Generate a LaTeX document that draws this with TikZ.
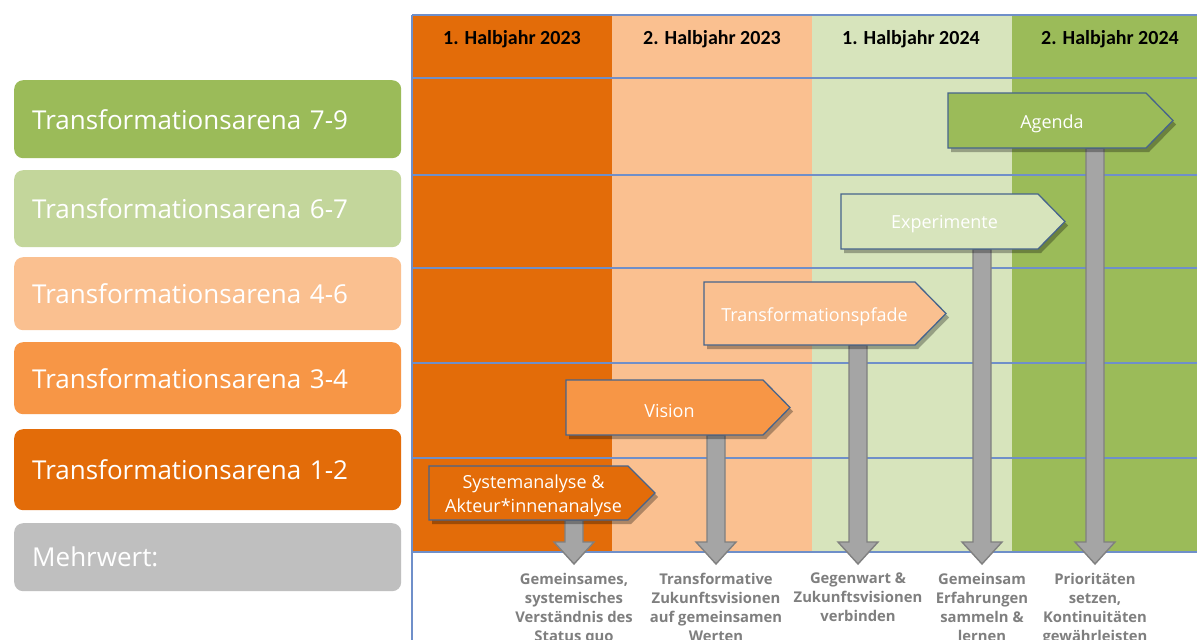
\documentclass[tikz,border=0pt]{standalone}
\usepackage{fontspec}
\setmainfont{Open Sans}
\newfontfamily\hdrfont{Carlito}
\usetikzlibrary{shadows,calc}
\definecolor{cOrange}{HTML}{E36C09}
\definecolor{cPeach}{HTML}{FAC090}
\definecolor{cLGreen}{HTML}{D7E4BC}
\definecolor{cGreen}{HTML}{9BBB59}
\definecolor{cMid}{HTML}{F79646}
\definecolor{cSage}{HTML}{C3D69B}
\definecolor{cGrayBox}{HTML}{BFBFBF}
\definecolor{gridblue}{HTML}{6F8FC9}
\definecolor{signline}{HTML}{46648C}
\definecolor{arrowfill}{HTML}{A5A5A5}
\definecolor{arrowline}{HTML}{808080}
\definecolor{btext}{HTML}{7F7F7F}
\tikzset{
  gridline/.style={draw=gridblue, line width=1.6pt},
  hdr/.style={font=\hdrfont\bfseries\fontsize{20}{24}\selectfont, text=black, inner sep=0pt},
  leftbox/.style={rounded corners=9pt, anchor=north west, minimum width=387pt, text width=351pt,
     inner xsep=18pt, inner ysep=0pt, align=left, text=white, font=\fontsize{26}{30}\selectfont},
  signshape/.style={draw=signline, line width=1.3pt, line join=miter,
     drop shadow={shadow xshift=3pt, shadow yshift=-4pt, opacity=0.3, fill=black}},
  signtext/.style={text=white, align=center, inner sep=0pt, font=\fontsize{18}{24}\selectfont},
  grayarr/.style={fill=arrowfill, draw=arrowline, line width=1.4pt, line join=miter},
  btxt/.style={anchor=north, align=center, inner sep=0pt, text=btext,
     font=\bfseries\fontsize{14.8}{19}\selectfont}
}
\newcommand\signpost[8]{%
  \filldraw[signshape, fill=#7] (#2,#3) -- (#4,#3) -- (#5,{(#3+#6)/2}) -- (#4,#6) -- (#2,#6) -- cycle;
  \node[signtext] (#1) at ({(#2+#4)/2+5},{(#3+#6)/2+3}) {#8};
}
\newcommand\grayarrow[2]{%
  \filldraw[grayarr] let \p1=(#1.south), \p2=(#2.north) in
   (\x2-9pt,\y1) -- (\x2+9pt,\y1) -- (\x2+9pt,\y2+31pt) -- (\x2+20pt,\y2+31pt) --
   (\x2,\y2+9pt) -- (\x2-20pt,\y2+31pt) -- (\x2-9pt,\y2+31pt) -- cycle;
}
\begin{document}
\begin{tikzpicture}[x=1pt,y=-1pt]
\useasboundingbox (0,0) rectangle (1197,640);
\clip (0,0) rectangle (1197,640);
\fill[white] (0,0) rectangle (1197,640);
% columns
\fill[cOrange] (412,15) rectangle (612,552);
\fill[cPeach] (612,15) rectangle (812,552);
\fill[cLGreen] (812,15) rectangle (1012,552);
\fill[cGreen] (1012,15) rectangle (1197,552);
% headers
\node[hdr] (h1) at (512,39) {1. Halbjahr 2023};
\node[hdr] (h2) at (712,39) {2. Halbjahr 2023};
\node[hdr] (h3) at (911,39) {1. Halbjahr 2024};
\node[hdr] (h4) at (1110,39) {2. Halbjahr 2024};
% grid
\foreach \yy in {15,78,175,268,363,458,552} {\draw[gridline] (412,\yy) -- (1197,\yy);}
\draw[gridline] (412,15) -- (412,640);
% left boxes
\node[leftbox, fill=cGreen, minimum height=78pt] (l1) at (14,80) {Transformationsarena 7-9};
\node[leftbox, fill=cSage, minimum height=77pt] (l2) at (14,170) {Transformationsarena 6-7};
\node[leftbox, fill=cPeach, minimum height=73pt] (l3) at (14,257) {Transformationsarena 4-6};
\node[leftbox, fill=cMid, minimum height=72pt] (l4) at (14,342) {Transformationsarena 3-4};
\node[leftbox, fill=cOrange, minimum height=81pt] (l5) at (14,429) {Transformationsarena 1-2};
\node[leftbox, fill=cGrayBox, minimum height=68pt] (l6) at (14,523) {Mehrwert:};
% bottom texts
\node[btxt] (b1) at (574,573) {Gemeinsames,\\systemisches\\Verständnis des\\Status quo};
\node[btxt] (b2) at (716,573) {Transformative\\Zukunftsvisionen\\auf gemeinsamen\\Werten};
\node[btxt] (b3) at (858,573) {Gegenwart \&\\Zukunftsvisionen\\verbinden};
\node[btxt] (b4) at (982,573) {Gemeinsam\\Erfahrungen\\sammeln \&\\lernen};
\node[btxt] (b5) at (1095,573) {Prioritäten\\setzen,\\Kontinuitäten\\gewährleisten};
% signpost bodies (named, for the arrows drawn before the signposts)
\node[inner sep=0pt, minimum width=198, minimum height=55] (a5) at (1047,120.5) {};
\node[inner sep=0pt, minimum width=197, minimum height=55] (a4) at (939.5,221.5) {};
\node[inner sep=0pt, minimum width=211, minimum height=63] (a3) at (809.5,313.5) {};
\node[inner sep=0pt, minimum width=197, minimum height=55] (a2) at (664.5,407.5) {};
\node[inner sep=0pt, minimum width=199, minimum height=54] (a1) at (528.5,493) {};
% gray arrows
\grayarrow{a1}{b1}
\grayarrow{a2}{b2}
\grayarrow{a3}{b3}
\grayarrow{a4}{b4}
\grayarrow{a5}{b5}
% signposts
\signpost{s5}{948}{93}{1146}{1173}{148}{cGreen}{Agenda}
\signpost{s4}{841}{194}{1038}{1065}{249}{cLGreen}{Experimente}
\signpost{s3}{704}{282}{915}{946}{345}{cPeach}{Transformationspfade}
\signpost{s2}{566}{380}{763}{790}{435}{cMid}{Vision}
\signpost{s1}{429}{466}{628}{655}{520}{cOrange}{Systemanalyse \&\\Akteur*innenanalyse}
\end{tikzpicture}
\end{document}
